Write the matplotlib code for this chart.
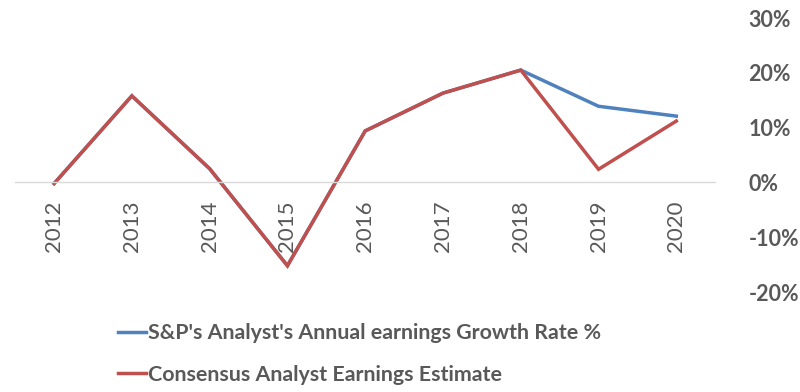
import matplotlib
matplotlib.use("Agg")
import matplotlib.pyplot as plt
from matplotlib.ticker import FuncFormatter

years = ["2012", "2013", "2014", "2015", "2016", "2017", "2018", "2019", "2020"]
sp_growth = [-0.2, 15.8, 2.5, -15.2, 9.4, 16.3, 20.5, 13.9, 12.1]
consensus = [-0.2, 15.8, 2.5, -15.2, 9.4, 16.3, 20.5, 2.4, 11.2]
series_names = ["S&P's Analyst's Annual earnings Growth Rate %",
                "Consensus Analyst Earnings Estimate"]

blue = "#4F81BD"
red = "#C0504D"
grey = "#595959"

plt.rcParams['font.family'] = ['Lato', 'DejaVu Sans']

fig = plt.figure(figsize=(8, 3.92), dpi=100)
ax = fig.add_axes([0.019, 0.255, 0.875, 0.699])

x = list(range(len(years)))
l1, = ax.plot(x, sp_growth, color=blue, lw=2.5, solid_joinstyle='miter', label=series_names[0])
l2, = ax.plot(x, consensus, color=red, lw=2.5, solid_joinstyle='miter', label=series_names[1])

ax.set_xlim(-0.5, len(years) - 0.5)
ax.set_ylim(-20, 30)
ax.set_yticks([-20, -10, 0, 10, 20, 30])
ax.yaxis.set_major_formatter(FuncFormatter(lambda v, p: f"{int(v)}%"))
ax.yaxis.tick_right()
ax.tick_params(axis='y', length=0, pad=24, labelsize=15.5, labelcolor=grey)
for lab in ax.get_yticklabels():
    lab.set_fontweight('bold')

ax.set_xticks(x)
ax.set_xticklabels(years)
ax.tick_params(axis='x', length=0, pad=13, labelsize=16, labelcolor=grey, labelrotation=90)
for lab in ax.get_xticklabels():
    lab.set_verticalalignment('top')
    lab.set_horizontalalignment('center')

for s in ['top', 'right', 'left']:
    ax.spines[s].set_visible(False)
ax.spines['bottom'].set_position(('data', 0))
ax.spines['bottom'].set_color('#D9D9D9')
ax.spines['bottom'].set_linewidth(1)

leg = fig.legend(handles=[l1, l2], loc='upper left', bbox_to_anchor=(0.148, 0.175),
                 frameon=False, handlelength=1.3, handletextpad=0.1,
                 labelspacing=1.0, borderaxespad=0, borderpad=0,
                 prop={'weight': 'bold', 'size': 15.4})
for t in leg.get_texts():
    t.set_color(grey)

fig.savefig("out.png", dpi=100)
